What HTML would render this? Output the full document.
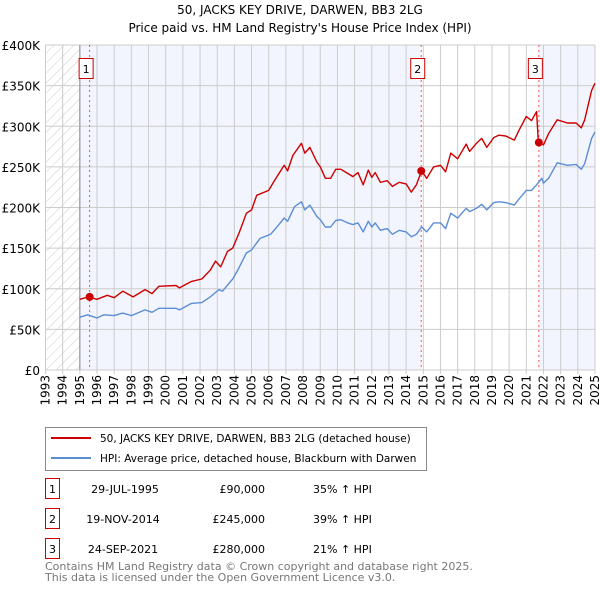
<!DOCTYPE html>
<html><head><meta charset="utf-8"><style>
body{margin:0;background:#fff;font-family:"DejaVu Sans","Liberation Sans",sans-serif;}
svg text{font-family:"DejaVu Sans","Liberation Sans",sans-serif;}
</style></head><body>
<svg id="c" width="600" height="590" xmlns="http://www.w3.org/2000/svg">
<defs><pattern id="hatch" width="7" height="7" patternUnits="userSpaceOnUse" patternTransform="rotate(45)"><rect width="7" height="7" fill="#fff"/><line x1="0" y1="0" x2="0" y2="7" stroke="#ccc" stroke-width="1"/></pattern></defs>
<text x="300" y="14" text-anchor="middle" font-size="12">50, JACKS KEY DRIVE, DARWEN, BB3 2LG</text>
<text x="300" y="32" text-anchor="middle" font-size="12">Price paid vs. HM Land Registry's House Price Index (HPI)</text>
<g id="bg"></g><g id="grid"></g><g id="axes"></g><g id="series"></g><g id="marks"></g>
<g>
<rect x="45.5" y="427.5" width="381" height="43" fill="#fff" stroke="#888"/>
<line x1="51" y1="438" x2="91" y2="438" stroke="#cc0000" stroke-width="2"/>
<text x="100" y="442" font-size="10.5">50, JACKS KEY DRIVE, DARWEN, BB3 2LG (detached house)</text>
<line x1="51" y1="458" x2="91" y2="458" stroke="#5b8dd6" stroke-width="2"/>
<text x="100" y="462" font-size="10.5">HPI: Average price, detached house, Blackburn with Darwen</text>
</g>
<g font-size="11">
<rect x="45.5" y="478.5" width="14" height="20" fill="#fff" stroke="#cc0000"/><text x="52.5" y="493" text-anchor="middle">1</text>
<text x="125" y="493" text-anchor="middle">29-JUL-1995</text><text x="265" y="493" text-anchor="end">£90,000</text><text x="313" y="493">35% ↑ HPI</text>
<rect x="45.5" y="508.5" width="14" height="20" fill="#fff" stroke="#cc0000"/><text x="52.5" y="523" text-anchor="middle">2</text>
<text x="123" y="523" text-anchor="middle">19-NOV-2014</text><text x="265" y="523" text-anchor="end">£245,000</text><text x="313" y="523">39% ↑ HPI</text>
<rect x="45.5" y="538.5" width="14" height="20" fill="#fff" stroke="#cc0000"/><text x="52.5" y="553" text-anchor="middle">3</text>
<text x="123" y="553" text-anchor="middle">24-SEP-2021</text><text x="265" y="553" text-anchor="end">£280,000</text><text x="313" y="553">21% ↑ HPI</text>
</g>
<text x="45" y="570" font-size="11" fill="#777">Contains HM Land Registry data © Crown copyright and database right 2025.</text>
<text x="45" y="581" font-size="11" fill="#777">This data is licensed under the Open Government Licence v3.0.</text>
</svg>
<script>
const hpiYears=[1995.0,1995.46,1996.0,1996.4,1997.0,1997.5,1998.0,1998.8,1999.2,1999.6,2000.6,2000.8,2001.5,2002.1,2002.6,2003.1,2003.3,2003.9,2004.2,2004.7,2005.0,2005.5,2006.1,2006.4,2006.9,2007.1,2007.5,2007.9,2008.1,2008.4,2008.8,2009.0,2009.3,2009.6,2009.9,2010.2,2010.6,2010.9,2011.2,2011.5,2011.8,2012.0,2012.2,2012.5,2012.9,2013.2,2013.6,2014.0,2014.3,2014.6,2014.9,2015.2,2015.6,2016.0,2016.3,2016.6,2017.0,2017.5,2017.7,2018.1,2018.4,2018.7,2019.1,2019.4,2019.8,2020.3,2020.6,2021.0,2021.3,2021.6,2021.9,2022.0,2022.3,2022.8,2023.4,2023.9,2024.2,2024.4,2024.8,2025.0];
const hpiValues=[65,68,64,68,67,70,67,74,71,76,76,74,82,83,90,99,97,112,123,144,148,162,167,174,187,183,201,207,197,203,189,185,176,176,184,185,181,179,181,170,183,176,181,172,174,167,172,170,164,167,176,170,181,181,174,193,187,199,195,199,204,197,206,207,206,203,211,221,221,228,236,230,236,255,252,253,247,254,285,293];
const priceYears=[1995.0,1995.5,1996.0,1996.6,1997.0,1997.5,1998.1,1998.8,1999.2,1999.6,2000.6,2000.8,2001.5,2002.1,2002.6,2002.9,2003.2,2003.6,2003.9,2004.3,2004.7,2005.0,2005.3,2006.0,2006.3,2006.9,2007.1,2007.4,2007.9,2008.1,2008.4,2008.8,2009.0,2009.3,2009.6,2009.9,2010.2,2010.6,2010.9,2011.2,2011.5,2011.8,2012.0,2012.2,2012.5,2012.9,2013.2,2013.6,2014.0,2014.3,2014.6,2014.9,2015.2,2015.6,2016.0,2016.3,2016.6,2017.0,2017.5,2017.7,2018.1,2018.4,2018.7,2019.1,2019.4,2019.8,2020.3,2020.6,2021.0,2021.3,2021.6,2021.7,2022.0,2022.3,2022.8,2023.4,2023.9,2024.2,2024.4,2024.8,2025.0];
const priceValues=[87,90,87,92,89,97,90,99,94,103,104,101,109,112,123,134,127,146,150,170,193,197,215,221,232,252,245,264,279,267,274,256,250,236,236,247,247,242,238,243,228,246,237,243,231,233,226,231,229,219,228,245,236,250,252,244,267,260,278,269,279,285,274,286,289,288,283,296,312,307,318,281,277,291,308,304,304,298,308,344,353];
const saleYears=[1995.57,2014.88,2021.73];
const saleValues=[90,245,280];
const saleLabels=["1","2","3"];
const yTicks=[0,50,100,150,200,250,300,350,400];
const yTickLabels=["£0","£50K","£100K","£150K","£200K","£250K","£300K","£350K","£400K"];
const xTicks=[1993,1994,1995,1996,1997,1998,1999,2000,2001,2002,2003,2004,2005,2006,2007,2008,2009,2010,2011,2012,2013,2014,2015,2016,2017,2018,2019,2020,2021,2022,2023,2024,2025];

const NS="http://www.w3.org/2000/svg";
const X0=45.5,X1=595,Y0=370,Y1=45;
const xs=y=>X0+(y-1993)*(X1-X0)/32;
const ys=v=>Y0-v*(Y0-Y1)/400;
function mk(tag,attrs,parent){const e=document.createElementNS(NS,tag);for(const k in attrs)e.setAttribute(k,attrs[k]);parent.appendChild(e);return e;}
const bg=document.getElementById('bg'),grid=document.getElementById('grid'),axes=document.getElementById('axes'),series=document.getElementById('series'),marks=document.getElementById('marks');
let r=mk('rect',{x:xs(1993),y:Y1,width:xs(1995)-xs(1993),height:Y0-Y1,fill:'url(#hatch)'},bg);


r=mk('rect',{x:xs(1995),y:Y1,width:xs(saleYears[1])-xs(1995),height:Y0-Y1,fill:'#f2f5fd'},bg);


r=mk('rect',{x:xs(saleYears[2]),y:Y1,width:X1-xs(saleYears[2]),height:Y0-Y1,fill:'#f2f5fd'},bg);


xTicks.forEach(t=>{
  const l=mk('line',{x1:xs(t),x2:xs(t),y1:Y1,y2:Y0+4,stroke:'#ccc'},grid);
  
  
  const tx=mk('text',{x:0,y:0,'font-size':12,'text-anchor':'end',transform:`translate(${xs(t)+4},375) rotate(-90)`},axes);
  tx.textContent=t;
  
  
});
yTicks.forEach((t,i)=>{
  const l=mk('line',{x1:X0,x2:X1,y1:ys(t),y2:ys(t),stroke:'#ccc'},grid);
  
  
  const tx=mk('text',{x:40,y:ys(t)+5,'font-size':12,'text-anchor':'end'},axes);
  tx.textContent=yTickLabels[i];
  
  
});
let ax=mk('line',{x1:xs(1995),x2:xs(1995),y1:Y1,y2:Y0,stroke:'#888'},grid);


saleYears.forEach((y,i)=>{
  const l=mk('line',{x1:xs(y),x2:xs(y),y1:Y1,y2:Y0,stroke:'#ee5555','stroke-dasharray':'2,3','stroke-width':1},grid);
  
  
});
function path(xa,va,color,name){
  const d=xa.map((y,i)=>(i?'L':'M')+xs(y).toFixed(1)+','+ys(va[i]).toFixed(1)).join('');
  const p=mk('path',{d:d,fill:'none',stroke:color,'stroke-width':1.4,'stroke-linejoin':'round'},series);
  
  
}
path(hpiYears,hpiValues,'#5b8dd6','hpi-line');
path(priceYears,priceValues,'#cc0000','price-paid-line');
saleYears.forEach((y,i)=>{
  const c=mk('circle',{cx:xs(y),cy:ys(saleValues[i]),r:4,fill:'#cc0000'},marks);
  
  
  const b=mk('rect',{x:xs(y)-10.5,y:58.5,width:14,height:20,fill:'#fff',stroke:'#cc0000'},marks);
  
  
  const t=mk('text',{x:xs(y)-3.5,y:73,'font-size':11,'text-anchor':'middle'},marks);
  t.textContent=saleLabels[i];
  
  
});
</script>
</body></html>
